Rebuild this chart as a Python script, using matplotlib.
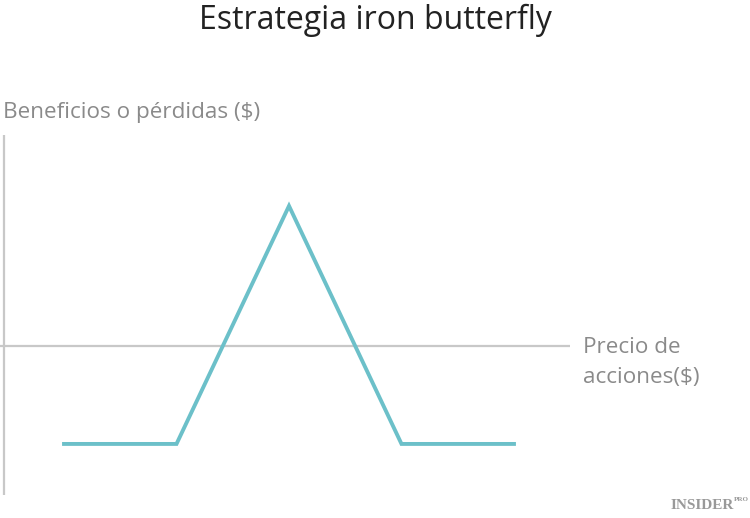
import matplotlib
matplotlib.use("Agg")
import matplotlib.pyplot as plt

# underlying price at each kink, and profit/loss there
prices = [40, 50, 60, 70, 80]
payoff = [-7, -7, 10, -7, -7]

TEAL = "#6cc0c9"
GREY = "#c8c8c8"
TXT = "#8a8a8a"

fig = plt.figure(figsize=(7.5, 5.18), dpi=100)
ax = fig.add_axes([0, 0, 1, 1])
ax.set_xlim(34.31, 100.98)
ax.set_ylim(-12.29, 24.71)
ax.axis("off")

ax.plot([34.31, 84.98], [0, 0], color=GREY, lw=1.6, solid_capstyle="butt")
ax.plot([34.67, 34.67], [-10.64, 15.07], color=GREY, lw=1.6, solid_capstyle="butt")
ax.plot(prices, payoff, color=TEAL, lw=2.8, solid_joinstyle="miter")

fig.text(0.5, 0.96, "Estrategia iron butterfly", ha="center", va="center",
         fontsize=23, family="Open Sans", color="#222222")
fig.text(0.004, 0.782, "Beneficios o pérdidas ($)", ha="left", va="center",
         fontsize=16.2, family="Open Sans", color=TXT)
fig.text(0.777, 0.30, "Precio de\nacciones($)", ha="left", va="center",
         fontsize=16.2, family="Open Sans", color=TXT, linespacing=1.55)
fig.text(0.978, 0.012, "INSIDER", ha="right", va="bottom", fontsize=11,
         family="Liberation Serif", weight="bold", color="#999999")
fig.text(0.999, 0.03, "PRO", ha="right", va="bottom", fontsize=5,
         family="Liberation Serif", weight="bold", color="#999999")

fig.savefig("out.png", dpi=100)
